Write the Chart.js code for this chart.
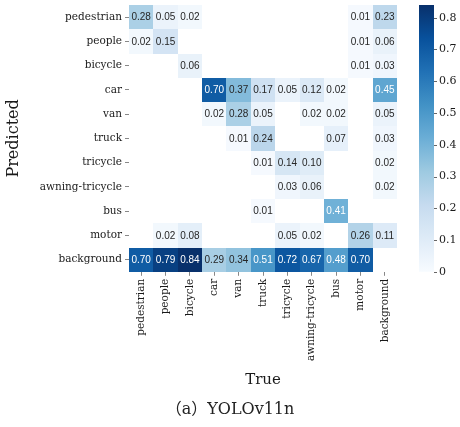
<!DOCTYPE html>
<html>
<head>
<meta charset="utf-8">
<script src="https://cdn.jsdelivr.net/npm/chart.js"></script>
<style>
  html, body { margin: 0; padding: 0; background: #fff; }
  #wrap { width: 460px; height: 427px; }
</style>
</head>
<body>
<div id="wrap"><canvas id="confusionChart"></canvas></div>
<script>
const classLabels = ["pedestrian", "people", "bicycle", "car", "van", "truck",
  "tricycle", "awning-tricycle", "bus", "motor", "background"];

// one row per predicted class, columns follow classLabels (true class)
const predPedestrian = [0.28, 0.05, 0.02, 0, 0, 0, 0, 0, 0, 0.01, 0.23];
const predPeople     = [0.02, 0.15, 0, 0, 0, 0, 0, 0, 0, 0.01, 0.06];
const predBicycle    = [0, 0, 0.06, 0, 0, 0, 0, 0, 0, 0.01, 0.03];
const predCar        = [0, 0, 0, 0.70, 0.37, 0.17, 0.05, 0.12, 0.02, 0, 0.45];
const predVan        = [0, 0, 0, 0.02, 0.28, 0.05, 0, 0.02, 0.02, 0, 0.05];
const predTruck      = [0, 0, 0, 0, 0.01, 0.24, 0, 0, 0.07, 0, 0.03];
const predTricycle   = [0, 0, 0, 0, 0, 0.01, 0.14, 0.10, 0, 0, 0.02];
const predAwning     = [0, 0, 0, 0, 0, 0, 0.03, 0.06, 0, 0, 0.02];
const predBus        = [0, 0, 0, 0, 0, 0.01, 0, 0, 0.41, 0, 0];
const predMotor      = [0, 0.02, 0.08, 0, 0, 0, 0.05, 0.02, 0, 0.26, 0.11];
const predBackground = [0.70, 0.79, 0.84, 0.29, 0.34, 0.51, 0.72, 0.67, 0.48, 0.70, 0];

const matrixRows = [predPedestrian, predPeople, predBicycle, predCar, predVan, predTruck,
  predTricycle, predAwning, predBus, predMotor, predBackground];

const colorbarTicks = [0, 0.1, 0.2, 0.3, 0.4, 0.5, 0.6, 0.7, 0.8];
const colorMax = 0.84;

// matplotlib "Blues"
const blues = [[247,251,255],[222,235,247],[198,219,239],[158,202,225],[107,174,214],
  [66,146,198],[33,113,181],[8,81,156],[8,48,107]];

function bluesColor(v) {
  let t = Math.max(0, Math.min(1, v / colorMax)) * (blues.length - 1);
  const i = Math.min(Math.floor(t), blues.length - 2);
  const f = t - i;
  const a = blues[i], b = blues[i + 1];
  const c = a.map((x, k) => Math.round(x + (b[k] - x) * f));
  return `rgb(${c[0]},${c[1]},${c[2]})`;
}

const cells = [];
matrixRows.forEach((row, r) => {
  row.forEach((v, c) => {
    if (v > 0) cells.push({ x: classLabels[c], y: classLabels[r], v: v, c: c, r: r });
  });
});

const serif = "'DejaVu Serif', 'Noto Sans CJK SC', serif";

const heatmapPlugin = {
  id: "heatmap",
  beforeDatasetsDraw(chart) {
    const { ctx } = chart;
    const xs = chart.scales.x, ys = chart.scales.y;
    ctx.save();
    cells.forEach(d => {
      const x0 = Math.round(xs.getPixelForValue(d.c - 0.5));
      const x1 = Math.round(xs.getPixelForValue(d.c + 0.5));
      const y0 = Math.round(ys.getPixelForValue(d.r - 0.5));
      const y1 = Math.round(ys.getPixelForValue(d.r + 0.5));
      ctx.fillStyle = bluesColor(d.v);
      ctx.fillRect(Math.min(x0, x1), Math.min(y0, y1), Math.abs(x1 - x0), Math.abs(y1 - y0));
    });
    // colorbar
    const cb = chart.scales.cb;
    const grad = ctx.createLinearGradient(0, cb.bottom, 0, cb.top);
    blues.forEach((c, i) => grad.addColorStop(i / (blues.length - 1), `rgb(${c[0]},${c[1]},${c[2]})`));
    ctx.fillStyle = grad;
    ctx.fillRect(cb.left + 22, cb.top, 15, cb.bottom - cb.top);
    ctx.strokeStyle = "#666";
    ctx.lineWidth = 1;
    cb.ticks.forEach(t => {
      const y = Math.round(cb.getPixelForValue(t.value)) + 0.5;
      ctx.beginPath();
      ctx.moveTo(cb.left + 37, y);
      ctx.lineTo(cb.left + 40, y);
      ctx.stroke();
    });
    ctx.restore();
  },
  afterDatasetsDraw(chart) {
    const { ctx } = chart;
    const meta = chart.getDatasetMeta(0);
    ctx.save();
    ctx.font = "10px 'Liberation Sans', Arial, sans-serif";
    ctx.textAlign = "center";
    ctx.textBaseline = "middle";
    meta.data.forEach((pt, i) => {
      const d = cells[i];
      ctx.fillStyle = d.v > 0.4 ? "#ffffff" : "#262626";
      ctx.fillText(d.v.toFixed(2), pt.x, pt.y + 0.5);
    });
    ctx.restore();
  }
};

new Chart(document.getElementById("confusionChart"), {
  type: "scatter",
  data: {
    datasets: [{
      data: cells,
      pointRadius: 0,
      pointHoverRadius: 0
    }]
  },
  options: {
    responsive: true,
    maintainAspectRatio: false,
    animation: false,
    layout: { padding: 0 },
    plugins: {
      legend: { display: false },
      tooltip: { enabled: false },
      title: {
        display: true,
        position: "bottom",
        text: "（a）YOLOv11n",
        color: "#222",
        font: { family: serif, size: 16, weight: "normal" },
        padding: { top: 0, bottom: 8 }
      }
    },
    scales: {
      x: {
        type: "category",
        labels: classLabels,
        offset: true,
        afterFit: s => { s.height = 128; },
        grid: { drawOnChartArea: false, tickLength: 4, color: "#888" },
        border: { display: false },
        ticks: {
          autoSkip: false, minRotation: 90, maxRotation: 90, padding: 3,
          color: "#1a1a1a", font: { family: serif, size: 10.5 }
        },
        title: {
          display: true, text: "True", color: "#1a1a1a",
          font: { family: serif, size: 15 }, padding: { bottom: 11 }
        }
      },
      y: {
        type: "category",
        labels: classLabels,
        offset: true,
        afterFit: s => { s.width = 129; s.paddingTop = 5; s.paddingBottom = 0; },
        grid: { drawOnChartArea: false, tickLength: 4, color: "#888" },
        border: { display: false },
        ticks: { autoSkip: false, padding: 3, color: "#1a1a1a", font: { family: serif, size: 10.5 } },
        title: {
          display: true, text: "Predicted", color: "#1a1a1a",
          font: { family: serif, size: 16 }, padding: { top: 4 }
        }
      },
      cb: {
        type: "linear",
        position: "right",
        min: 0,
        max: colorMax,
        afterFit: s => { s.width = 63; s.paddingTop = 5; s.paddingBottom = 0; },
        afterBuildTicks: s => { s.ticks = colorbarTicks.map(v => ({ value: v })); },
        grid: { drawOnChartArea: false, drawTicks: true, tickLength: 40, color: "rgba(0,0,0,0)" },
        border: { display: false },
        ticks: {
          padding: 2, color: "#1a1a1a", font: { family: serif, size: 11 },
          callback: v => (v === 0 ? "0" : v.toFixed(1))
        }
      }
    }
  },
  plugins: [heatmapPlugin]
});
</script>
</body>
</html>
